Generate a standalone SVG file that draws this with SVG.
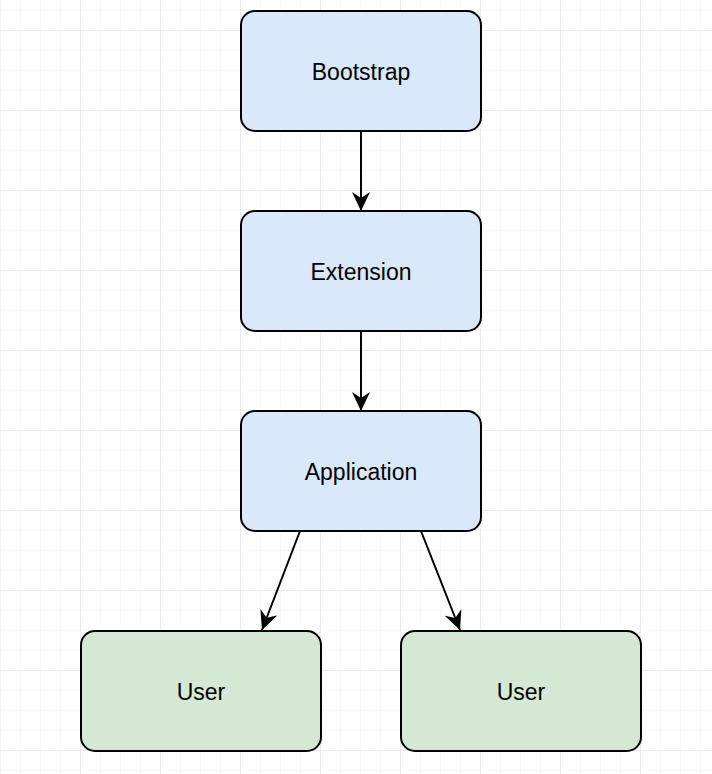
<svg xmlns="http://www.w3.org/2000/svg" width="712" height="774" viewBox="0 0 712 774">
  <defs>
    <pattern id="minor" width="20" height="20" patternUnits="userSpaceOnUse" x="0" y="10">
      <path d="M 0 0 L 20 0 M 0 0 L 0 20" fill="none" stroke="#f2f2f2" stroke-width="1"/>
    </pattern>
    <pattern id="major" width="80" height="80" patternUnits="userSpaceOnUse" x="0" y="30">
      <path d="M 0 0 L 80 0 M 0 0 L 0 80" fill="none" stroke="#dddddd" stroke-width="1"/>
    </pattern>
    <marker id="arrow" viewBox="0 0 19 18" refX="19" refY="9" markerWidth="19" markerHeight="18" markerUnits="userSpaceOnUse" orient="auto">
      <path d="M 0 0 L 19 9 L 0 18 L 6 9 Z" fill="#000000"/>
    </marker>
    <style>
      .node rect { stroke: #000000; stroke-width: 2; }
      .blue rect { fill: #dae8fc; }
      .green rect { fill: #d5e8d4; }
      .node text { font-family: "Liberation Sans", Arial, sans-serif; font-size: 23px; fill: #000000; text-anchor: middle; }
      .edge { stroke: #000000; stroke-width: 2; fill: none; marker-end: url(#arrow); }
    </style>
  </defs>
  <rect x="0" y="0" width="712" height="774" fill="#ffffff"/>
  <rect x="0.5" y="0.5" width="712" height="774" fill="url(#minor)"/>
  <rect x="0.5" y="0.5" width="712" height="774" fill="url(#major)"/>

  <g id="connectors">
    <path class="edge" d="M 361 131 L 361 211"/>
    <path class="edge" d="M 361 331 L 361 411"/>
    <path class="edge" d="M 300 531 L 262 630"/>
    <path class="edge" d="M 421 531 L 460 630"/>
  </g>

  <g id="node-bootstrap" class="node blue">
    <rect x="241" y="11" width="240" height="120" rx="14" ry="14"/>
    <text x="361" y="80">Bootstrap</text>
  </g>
  <g id="node-extension" class="node blue">
    <rect x="241" y="211" width="240" height="120" rx="14" ry="14"/>
    <text x="361" y="280">Extension</text>
  </g>
  <g id="node-application" class="node blue">
    <rect x="241" y="411" width="240" height="120" rx="14" ry="14"/>
    <text x="361" y="480">Application</text>
  </g>
  <g id="node-user-1" class="node green">
    <rect x="81" y="631" width="240" height="120" rx="14" ry="14"/>
    <text x="201" y="700">User</text>
  </g>
  <g id="node-user-2" class="node green">
    <rect x="401" y="631" width="240" height="120" rx="14" ry="14"/>
    <text x="521" y="700">User</text>
  </g>
</svg>
